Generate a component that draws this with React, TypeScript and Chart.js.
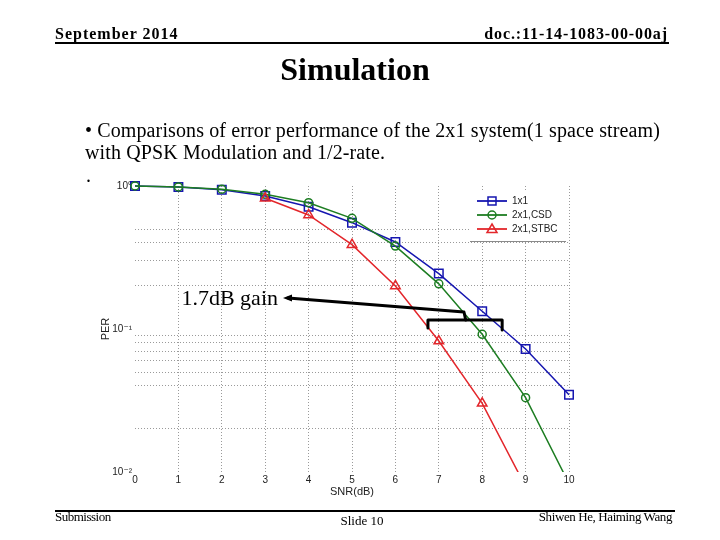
import React, { useEffect, useRef } from "react";
import { Chart, registerables } from "chart.js";

Chart.register(...registerables);

// ---- data ----
const snrDb = [0, 1, 2, 3, 4, 5, 6, 7, 8, 9, 10];
const per1x1 = [1.0, 0.984, 0.94, 0.85, 0.716, 0.554, 0.406, 0.244, 0.133, 0.0724, 0.0347];
const per2x1Csd = [1.0, 0.985, 0.95, 0.875, 0.764, 0.594, 0.38, 0.207, 0.0918, 0.0331, 0.0083];
const per2x1Stbc = [null, null, null, 0.82, 0.627, 0.389, 0.2, 0.0824, 0.0302, 0.0079, null];
const seriesLabels = ["1x1", "2x1,CSD", "2x1,STBC"];
const xTicks = [0, 1, 2, 3, 4, 5, 6, 7, 8, 9, 10];
const yTicks = [0.01, 0.02, 0.04, 0.05, 0.06, 0.07, 0.08, 0.09, 0.1, 0.2, 0.3, 0.4, 0.5, 1];
const yTickLabels: Record<string, string> = { "1": "10⁰", "0.1": "10⁻¹", "0.01": "10⁻²" };
const gainLabel = "1.7dB gain";

const BLUE = "#1616b0";
const GREEN = "#1d7d22";
const RED = "#e3262b";
const GRID = "#9a9a9a";

const SERIF = "'Liberation Serif', 'Times New Roman', serif";
const SANS = "'Liberation Sans', 'DejaVu Sans', Arial, sans-serif";

function pts(vals: (number | null)[]) {
  return snrDb.map((x, i) => ({ x, y: vals[i] }));
}

function drawMarker(ctx: CanvasRenderingContext2D, style: string, x: number, y: number, color: string) {
  ctx.save();
  ctx.strokeStyle = color;
  ctx.lineWidth = 1.5;
  ctx.beginPath();
  if (style === "rect") {
    ctx.rect(x - 4, y - 4, 8, 8);
  } else if (style === "circle") {
    ctx.arc(x, y, 4, 0, Math.PI * 2);
  } else {
    ctx.moveTo(x, y - 5);
    ctx.lineTo(x + 5, y + 3.5);
    ctx.lineTo(x - 5, y + 3.5);
    ctx.closePath();
  }
  ctx.stroke();
  ctx.restore();
}

const legendPlugin = {
  id: "matlabLegend",
  afterDatasetsDraw(chart: any) {
    const { ctx, chartArea } = chart;
    const right = chartArea.right - 1;
    const left = right - 98;
    const top = chartArea.top + 4;
    const bottom = chartArea.top + 55;
    ctx.save();
    ctx.fillStyle = "#ffffff";
    ctx.fillRect(left, top, right - left, bottom - top);
    ctx.strokeStyle = "#8a8a8a";
    ctx.lineWidth = 1;
    ctx.beginPath();
    ctx.moveTo(left, bottom + 0.5);
    ctx.lineTo(right - 2, bottom + 0.5);
    ctx.stroke();
    const rows = [top + 11, top + 25, top + 39];
    chart.data.datasets.forEach((ds: any, i: number) => {
      const y = rows[i];
      ctx.strokeStyle = ds.borderColor;
      ctx.lineWidth = 1.8;
      ctx.beginPath();
      ctx.moveTo(left + 7, y);
      ctx.lineTo(left + 37, y);
      ctx.stroke();
      drawMarker(ctx, ds.pointStyle, left + 22, y, ds.borderColor);
      ctx.fillStyle = "#222";
      ctx.font = `10px ${SANS}`;
      ctx.textBaseline = "middle";
      ctx.textAlign = "left";
      ctx.fillText(ds.label, left + 42, y + 0.5);
    });
    ctx.restore();
  },
};

const annotationPlugin = {
  id: "gainAnnotation",
  afterDatasetsDraw(chart: any) {
    const { ctx } = chart;
    const xs = chart.scales.x;
    const ys = chart.scales.y;
    const P = (x: number, y: number) => [xs.getPixelForValue(x), ys.getPixelForValue(y)];
    const head = P(3.41, 0.165);
    const joint = P(7.58, 0.1315);
    const mid = P(7.62, 0.1156);
    const bl = P(6.75, 0.1156);
    const br = P(8.46, 0.1156);
    const bld = P(6.75, 0.1016);
    const brd = P(8.46, 0.0985);
    ctx.save();
    ctx.strokeStyle = "#000";
    ctx.fillStyle = "#000";
    ctx.lineWidth = 3;
    ctx.lineJoin = "round";
    ctx.lineCap = "round";
    ctx.beginPath();
    ctx.moveTo(head[0] + 5, head[1]);
    ctx.lineTo(joint[0], joint[1]);
    ctx.lineTo(mid[0], mid[1]);
    ctx.stroke();
    ctx.beginPath();
    ctx.moveTo(bld[0], bld[1]);
    ctx.lineTo(bl[0], bl[1]);
    ctx.lineTo(br[0], br[1]);
    ctx.lineTo(brd[0], brd[1]);
    ctx.stroke();
    // arrow head
    ctx.beginPath();
    ctx.moveTo(head[0], head[1]);
    ctx.lineTo(head[0] + 9, head[1] - 3.5);
    ctx.lineTo(head[0] + 9, head[1] + 3.5);
    ctx.closePath();
    ctx.fill();
    ctx.font = `22px ${SERIF}`;
    ctx.textAlign = "right";
    ctx.textBaseline = "alphabetic";
    ctx.fillText(gainLabel, head[0] - 5, head[1] + 7);
    ctx.restore();
  },
};

function Txt(props: {
  text: string;
  x: number;
  baseline: number;
  size: number;
  bold?: boolean;
  align?: "left" | "right" | "center";
  family?: string;
  spacing?: number;
}) {
  const { text, x, baseline, size, bold, align = "left", family = SERIF, spacing = 0 } = props;
  const top = baseline - 0.8375 * size;
  const style: React.CSSProperties = {
    position: "absolute",
    top,
    fontFamily: family,
    fontSize: size,
    lineHeight: `${size}px`,
    fontWeight: bold ? "bold" : "normal",
    whiteSpace: "nowrap",
    letterSpacing: spacing,
    color: "#000",
  };
  if (align === "left") {
    style.left = x;
  } else if (align === "right") {
    style.right = 720 - x;
  } else {
    style.left = x - 300;
    style.width = 600;
    style.textAlign = "center";
  }
  return <div style={style}>{text}</div>;
}

export default function App() {
  const ref = useRef<HTMLCanvasElement>(null);

  useEffect(() => {
    const canvas = ref.current!;
    const common = {
      borderWidth: 1.5,
      pointBorderWidth: 1.5,
      pointBackgroundColor: "rgba(0,0,0,0)",
      tension: 0,
      fill: false,
      clip: { left: 10, top: 10, right: 10, bottom: 0 },
    };
    const chart = new Chart(canvas, {
      type: "line",
      data: {
        datasets: [
          {
            ...common,
            label: seriesLabels[0],
            data: pts(per1x1),
            borderColor: BLUE,
            pointBorderColor: BLUE,
            pointStyle: "rect",
            pointRadius: 6,
            order: 3,
          },
          {
            ...common,
            label: seriesLabels[1],
            data: pts(per2x1Csd),
            borderColor: GREEN,
            pointBorderColor: GREEN,
            pointStyle: "circle",
            pointRadius: 4,
            order: 2,
          },
          {
            ...common,
            label: seriesLabels[2],
            data: pts(per2x1Stbc),
            borderColor: RED,
            pointBorderColor: RED,
            pointStyle: "triangle",
            pointRadius: 5.5,
            order: 1,
          },
        ] as any,
      },
      options: {
        animation: false,
        responsive: false,
        maintainAspectRatio: false,
        events: [],
        layout: { padding: { left: 95, top: 186, right: 151, bottom: 38 } },
        plugins: {
          legend: { display: false },
          tooltip: { enabled: false },
          title: { display: false },
        },
        scales: {
          x: {
            type: "linear",
            min: 0,
            max: 10,
            afterFit: (s: any) => {
              s.height = 30;
            },
            afterBuildTicks: (s: any) => {
              s.ticks = xTicks.map((v) => ({ value: v }));
            },
            ticks: {
              autoSkip: false,
              maxRotation: 0,
              padding: 2,
              color: "#222",
              font: { family: SANS, size: 10 },
              callback: (v: any) => String(v),
            },
            grid: {
              drawTicks: false,
              lineWidth: 1,
              color: (c: any) => (c.tick && c.tick.value === 0 ? "rgba(0,0,0,0)" : GRID),
            },
            border: { display: false, dash: [1, 2] },
            title: {
              display: true,
              text: "SNR(dB)",
              color: "#222",
              font: { family: SANS, size: 11 },
              padding: { top: 0, bottom: 3 },
            },
          },
          y: {
            type: "logarithmic",
            min: 0.01,
            max: 1,
            afterFit: (s: any) => {
              s.width = 40;
            },
            afterBuildTicks: (s: any) => {
              s.ticks = yTicks.map((v) => ({ value: v }));
            },
            ticks: {
              autoSkip: false,
              padding: 3,
              color: "#222",
              font: { family: SANS, size: 10 },
              callback: (v: any) => yTickLabels[String(v)] || "",
            },
            grid: {
              drawTicks: false,
              lineWidth: 1,
              color: (c: any) => {
                const v = c.tick ? c.tick.value : 0;
                return v === 1 || v === 0.1 || v === 0.01 ? "rgba(0,0,0,0)" : GRID;
              },
            },
            border: { display: false, dash: [1, 2] },
            title: {
              display: true,
              text: "PER",
              color: "#222",
              font: { family: SANS, size: 11 },
              padding: { top: 4, bottom: 4 },
            },
          },
        },
      } as any,
      plugins: [legendPlugin, annotationPlugin],
    });
    return () => chart.destroy();
  }, []);

  return (
    <div
      style={{
        position: "fixed",
        left: 0,
        top: 0,
        width: 720,
        height: 540,
        background: "#fff",
        overflow: "hidden",
      }}
    >
      <canvas ref={ref} width={720} height={540} style={{ position: "absolute", left: 0, top: 0, width: 720, height: 540 }} />
      <Txt text="September 2014" x={55} baseline={39} size={16} bold spacing={1} />
      <Txt text="doc.:11-14-1083-00-00aj" x={668} baseline={39} size={16} bold align="right" spacing={0.9} />
      <div style={{ position: "absolute", left: 55, top: 42, width: 614, height: 2, background: "#000" }} />
      <Txt text="Simulation" x={355} baseline={80} size={32} bold align="center" />
      <Txt text="• Comparisons of error performance of the 2x1 system(1 space stream)" x={85} baseline={137} size={20} spacing={0.12} />
      <Txt text="with QPSK Modulation and 1/2-rate." x={85} baseline={159} size={20} spacing={0.12} />
      <Txt text="." x={86} baseline={182} size={20} />
      <div style={{ position: "absolute", left: 55, top: 510, width: 620, height: 2, background: "#000" }} />
      <Txt text="Submission" x={55} baseline={521} size={13} spacing={-0.5} />
      <Txt text="Slide 10" x={362} baseline={525} size={13} align="center" />
      <Txt text="Shiwen He, Haiming Wang" x={672} baseline={521} size={13} align="right" spacing={-0.4} />
    </div>
  );
}
